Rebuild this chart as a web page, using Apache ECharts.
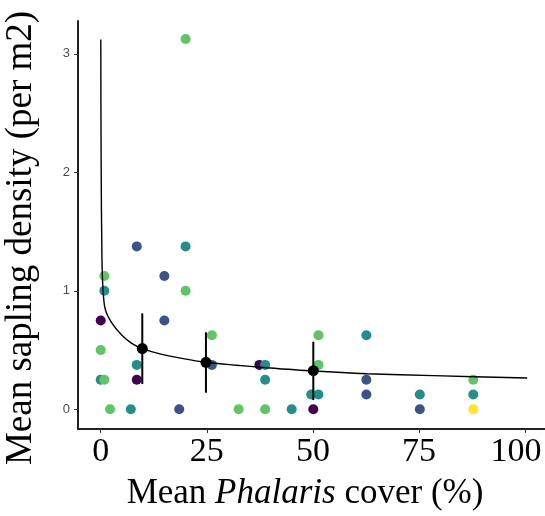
<!DOCTYPE html>
<html>
<head>
<meta charset="utf-8">
<script src="https://cdn.jsdelivr.net/npm/echarts@6/dist/echarts.min.js"></script>
<style>
  html, body { margin: 0; padding: 0; background: #fff; }
  #chart { width: 545px; height: 516px; }
</style>
</head>
<body>
<div id="chart"></div>
<script>
// raw plot points by colour group: [cover %, density]
const groupPurple = [[0, 0.75], [8.5, 0.25], [37.4, 0.375], [50.1, 0]];
const groupBlue = [[8.5, 1.375], [15, 1.125], [15, 0.75], [26.2, 0.375], [18.5, 0], [62.6, 0.25], [62.6, 0.125], [75.2, 0]];
const groupTeal = [[20, 1.375], [0.85, 1.0], [8.5, 0.375], [38.75, 0.375], [0, 0.25], [38.75, 0.25], [49.6, 0.125], [51.3, 0.125], [62.6, 0.625], [75.2, 0.125], [87.8, 0.125], [7.1, 0], [45, 0]];
const groupGreen = [[20, 3.125], [0.85, 1.125], [20, 1.0], [26.2, 0.625], [0, 0.5], [0.85, 0.25], [51.3, 0.625], [51.3, 0.375], [87.8, 0.25], [2.2, 0], [32.5, 0], [38.75, 0]];
const groupYellow = [[87.8, 0]];

// binned means with error bars
const meanX = [9.8, 24.8, 50.1];
const meanY = [0.513, 0.397, 0.326];
const errLow = [0.214, 0.14, 0.078];
const errHigh = [0.81, 0.65, 0.571];

// fitted curve
const fitX = [0.02, 0.1, 0.3, 0.6, 1.1, 2.6, 5, 7.3, 9.8, 14.4, 19.1, 24.8, 31.3, 39.1, 50.1, 62.7, 78.4, 100.5];
const fitY = [3.12, 2.1, 1.26, 0.98, 0.84, 0.73, 0.625, 0.557, 0.513, 0.464, 0.43, 0.397, 0.374, 0.351, 0.323, 0.30, 0.284, 0.264];

const xTicks = [0, 25, 50, 75, 100];
const yTicks = [0, 1, 2, 3];

const colors = ['#440154', '#3b528b', '#21908d', '#5dc863', '#fde725'];
const groups = [groupPurple, groupBlue, groupTeal, groupGreen, groupYellow];

const chart = echarts.init(document.getElementById('chart'));

const pointSeries = groups.map((g, i) => ({
  type: 'scatter',
  data: g,
  symbolSize: 10,
  itemStyle: { color: colors[i], opacity: 1 },
  z: 2
}));

chart.setOption({
  animation: false,
  grid: { left: 78, right: 0, top: 21, bottom: 87, outerBoundsMode: 'none', containLabel: false },
  xAxis: {
    type: 'value',
    min: -5.35,
    max: 104.7,
    splitLine: { show: false },
    axisLine: { onZero: false, lineStyle: { color: '#222', width: 2 } },
    axisTick: { customValues: xTicks, length: 4, lineStyle: { color: '#333' } },
    axisLabel: {
      customValues: xTicks,
      margin: 6,
      color: '#000',
      fontFamily: 'Liberation Serif',
      fontSize: 34,
      // last label sits a little left of its tick, as in the source
      formatter: v => (v === 100 ? '{edge|100}' : String(v)),
      rich: {
        edge: { padding: [0, 18, 0, 0], fontFamily: 'Liberation Serif', fontSize: 34, color: '#000' }
      }
    }
  },
  yAxis: {
    type: 'value',
    min: -0.166,
    max: 3.277,
    splitLine: { show: false },
    axisLine: { show: true, onZero: false, lineStyle: { color: '#222', width: 2 } },
    axisTick: { show: true, customValues: yTicks, length: 4, lineStyle: { color: '#333' } },
    axisLabel: {
      customValues: yTicks,
      margin: 8,
      color: '#4d4d4d',
      fontFamily: 'Liberation Sans Narrow, Liberation Sans',
      fontSize: 13
    }
  },
  graphic: [
    {
      type: 'text',
      x: 21,
      y: 238,
      rotation: Math.PI / 2,
      style: {
        text: 'Mean sapling density (per m2)',
        fontFamily: 'Liberation Serif',
        fontSize: 37,
        fill: '#000',
        align: 'center',
        verticalAlign: 'middle'
      }
    },
    {
      type: 'text',
      x: 305,
      y: 494,
      style: {
        text: 'Mean {i|Phalaris} cover (%)',
        fontFamily: 'Liberation Serif',
        fontSize: 35,
        fill: '#000',
        align: 'center',
        verticalAlign: 'middle',
        rich: {
          i: { fontStyle: 'italic', fontFamily: 'Liberation Serif', fontSize: 35, fill: '#000' }
        }
      }
    }
  ],
  series: [
    ...pointSeries,
    {
      type: 'line',
      data: fitX.map((x, i) => [x, fitY[i]]),
      showSymbol: false,
      smooth: 0.3,
      lineStyle: { color: '#000', width: 1.4 },
      z: 3
    },
    {
      type: 'custom',
      data: meanX.map((x, i) => [x, errLow[i], errHigh[i]]),
      renderItem: (params, api) => {
        const a = api.coord([api.value(0), api.value(1)]);
        const b = api.coord([api.value(0), api.value(2)]);
        return {
          type: 'line',
          shape: { x1: a[0], y1: a[1], x2: b[0], y2: b[1] },
          style: { stroke: '#000', lineWidth: 2 }
        };
      },
      z: 4
    },
    {
      type: 'scatter',
      data: meanX.map((x, i) => [x, meanY[i]]),
      symbolSize: 11,
      itemStyle: { color: '#000', opacity: 1 },
      z: 5
    }
  ]
});
</script>
</body>
</html>
